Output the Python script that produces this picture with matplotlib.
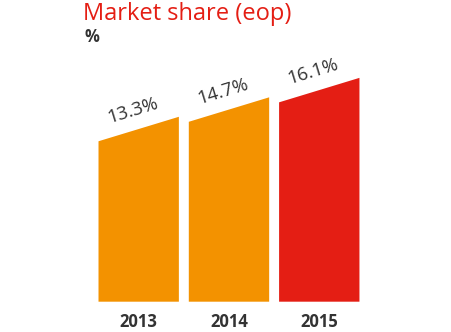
import matplotlib
matplotlib.use("Agg")
import matplotlib.pyplot as plt
from matplotlib.patches import Polygon

# ── Data ─────────────────────────────────────────────────────────────────────
years = ["2013", "2014", "2015"]
share = [13.3, 14.7, 16.1]
labels = ["13.3%", "14.7%", "16.1%"]

# ── Style ────────────────────────────────────────────────────────────────────
ORANGE = "#F39200"
RED = "#E41E14"
TEXT_DARK = "#333333"
BAR_COLORS = [ORANGE, ORANGE, RED]
BAR_WIDTH = 0.89
SLANT = 1.76          # drop of the left corner of each bar top, in data units

plt.rcParams["font.family"] = ["Open Sans", "DejaVu Sans"]

fig = plt.figure(figsize=(4.52, 3.32), dpi=100)
ax = fig.add_axes([0, 0, 1, 1])
ax.set_xlim(-1.536, 3.470)
ax.set_ylim(-2.18, 21.7)
ax.axis("off")

for i, (v, c) in enumerate(zip(share, BAR_COLORS)):
    x0, x1 = i - BAR_WIDTH / 2, i + BAR_WIDTH / 2
    ax.add_patch(Polygon([(x0, 0), (x1, 0), (x1, v), (x0, v - SLANT)],
                         closed=True, facecolor=c, edgecolor="none"))
    ax.text(i - 0.07, v + 0.45, labels[i], rotation=17, rotation_mode="anchor",
            ha="center", va="center", fontsize=13.5, color=TEXT_DARK)
    ax.text(i, -1.45, years[i], ha="center", va="center", fontsize=12,
            fontweight="bold", color=TEXT_DARK)

fig.text(0.183, 0.995, "Market share (eop)", ha="left", va="top",
         fontsize=17, color=RED)
fig.text(0.186, 0.89, "%", ha="left", va="center", fontsize=12,
         fontweight="bold", color=TEXT_DARK)

fig.savefig("out.png", dpi=100)
